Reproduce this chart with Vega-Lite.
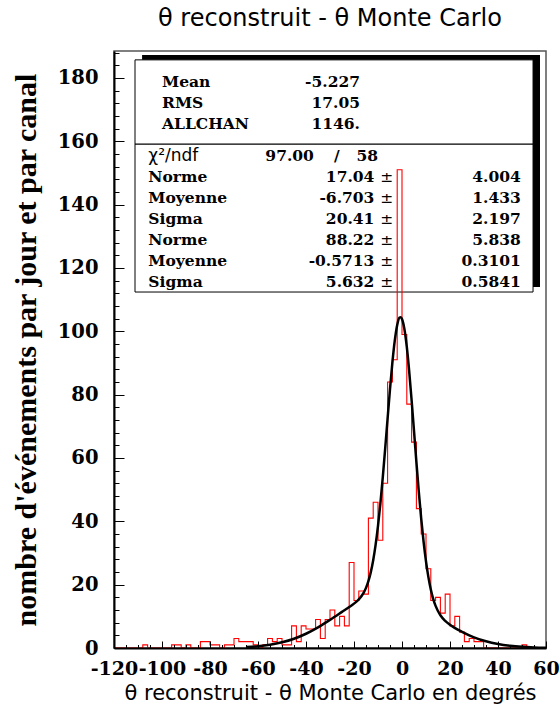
{
  "$schema": "https://vega.github.io/schema/vega-lite/v6.json",
  "width": 432,
  "height": 597,
  "autosize": {"type": "none"},
  "padding": {"left": 114, "top": 51, "right": 14, "bottom": 59},
  "background": "white",
  "title": {"text": "θ reconstruit - θ Monte Carlo", "font": "DejaVu Sans", "fontSize": 24, "fontWeight": "normal", "color": "black", "anchor": "middle", "offset": 20},
  "config": {"view": {"stroke": "#555", "strokeWidth": 1.5}, "axis": {"grid": false}},
  "datasets": {
    "hist": [
      {"x": -120, "n": 0}, {"x": -118, "n": 0}, {"x": -116, "n": 0}, {"x": -114, "n": 0}, {"x": -112, "n": 0},
      {"x": -110, "n": 0}, {"x": -108, "n": 1}, {"x": -106, "n": 0}, {"x": -104, "n": 0}, {"x": -102, "n": 0},
      {"x": -100, "n": 0}, {"x": -98, "n": 0}, {"x": -96, "n": 1}, {"x": -94, "n": 1}, {"x": -92, "n": 0},
      {"x": -90, "n": 1}, {"x": -88, "n": 0}, {"x": -86, "n": 0}, {"x": -84, "n": 2}, {"x": -82, "n": 2},
      {"x": -80, "n": 1}, {"x": -78, "n": 1}, {"x": -76, "n": 0}, {"x": -74, "n": 1}, {"x": -72, "n": 1},
      {"x": -70, "n": 3}, {"x": -68, "n": 2}, {"x": -66, "n": 2}, {"x": -64, "n": 2}, {"x": -62, "n": 1},
      {"x": -60, "n": 0}, {"x": -58, "n": 1}, {"x": -56, "n": 3}, {"x": -54, "n": 2}, {"x": -52, "n": 3},
      {"x": -50, "n": 1}, {"x": -48, "n": 1}, {"x": -46, "n": 7}, {"x": -44, "n": 2}, {"x": -42, "n": 7},
      {"x": -40, "n": 6}, {"x": -38, "n": 6}, {"x": -36, "n": 9}, {"x": -34, "n": 3}, {"x": -32, "n": 9},
      {"x": -30, "n": 12}, {"x": -28, "n": 7}, {"x": -26, "n": 10}, {"x": -24, "n": 7}, {"x": -22, "n": 27},
      {"x": -20, "n": 15}, {"x": -18, "n": 18}, {"x": -16, "n": 17}, {"x": -14, "n": 41}, {"x": -12, "n": 46},
      {"x": -10, "n": 34}, {"x": -8, "n": 52}, {"x": -6, "n": 84}, {"x": -4, "n": 91}, {"x": -2, "n": 151},
      {"x": 0, "n": 99}, {"x": 2, "n": 77}, {"x": 4, "n": 65}, {"x": 6, "n": 44}, {"x": 8, "n": 36},
      {"x": 10, "n": 25}, {"x": 12, "n": 15}, {"x": 14, "n": 16}, {"x": 16, "n": 11}, {"x": 18, "n": 17},
      {"x": 20, "n": 7}, {"x": 22, "n": 10}, {"x": 24, "n": 5}, {"x": 26, "n": 2}, {"x": 28, "n": 3},
      {"x": 30, "n": 2}, {"x": 32, "n": 2}, {"x": 34, "n": 0}, {"x": 36, "n": 0}, {"x": 38, "n": 0},
      {"x": 40, "n": 0}, {"x": 42, "n": 0}, {"x": 44, "n": 0}, {"x": 46, "n": 0}, {"x": 48, "n": 0},
      {"x": 50, "n": 1}, {"x": 52, "n": 0}, {"x": 54, "n": 0}, {"x": 56, "n": 0}, {"x": 58, "n": 0},
      {"x": 60, "n": 0}
    ],
    "fit": [
      {"x": -65, "f": 0.29}, {"x": -60, "f": 0.56}, {"x": -55, "f": 1.04}, {"x": -50, "f": 1.8},
      {"x": -45, "f": 2.93}, {"x": -40, "f": 4.5}, {"x": -35, "f": 6.52}, {"x": -30, "f": 8.88},
      {"x": -25, "f": 11.4}, {"x": -22, "f": 12.93}, {"x": -20, "f": 14.01}, {"x": -18, "f": 15.36},
      {"x": -16, "f": 17.43}, {"x": -15, "f": 18.99}, {"x": -14, "f": 21.13}, {"x": -13, "f": 23.96},
      {"x": -12, "f": 27.73}, {"x": -11, "f": 32.54}, {"x": -10, "f": 38.55}, {"x": -9, "f": 45.7},
      {"x": -8, "f": 53.97}, {"x": -7, "f": 63.02}, {"x": -6, "f": 72.47}, {"x": -5, "f": 81.72},
      {"x": -4, "f": 90.19}, {"x": -3, "f": 97.13}, {"x": -2, "f": 102.02}, {"x": -1, "f": 104.34},
      {"x": -0.5, "f": 104.47}, {"x": 0, "f": 103.91}, {"x": 1, "f": 100.71}, {"x": 2, "f": 95.05},
      {"x": 3, "f": 87.36}, {"x": 4, "f": 78.31}, {"x": 5, "f": 68.53}, {"x": 6, "f": 58.7},
      {"x": 7, "f": 49.33}, {"x": 8, "f": 40.85}, {"x": 9, "f": 33.49}, {"x": 10, "f": 27.35},
      {"x": 11, "f": 22.39}, {"x": 12, "f": 18.5}, {"x": 13, "f": 15.53}, {"x": 14, "f": 13.29},
      {"x": 16, "f": 10.34}, {"x": 18, "f": 8.58}, {"x": 20, "f": 7.35}, {"x": 25, "f": 5.1},
      {"x": 30, "f": 3.38}, {"x": 35, "f": 2.11}, {"x": 40, "f": 1.24}, {"x": 45, "f": 0.69},
      {"x": 50, "f": 0.36}, {"x": 55, "f": 0.18}, {"x": 60, "f": 0.08}
    ],
    "box": [
      {"line": 1, "col": "slab", "t": "Mean"}, {"line": 1, "col": "sval", "t": "-5.227"},
      {"line": 2, "col": "slab", "t": "RMS"}, {"line": 2, "col": "sval", "t": "17.05"},
      {"line": 3, "col": "slab", "t": "ALLCHAN"}, {"line": 3, "col": "sval", "t": "1146."},
      {"line": 4.5, "col": "chi", "t": "χ²/ndf"}, {"line": 4.5, "col": "chival", "t": "97.00"},
      {"line": 4.5, "col": "slash", "t": "/"}, {"line": 4.5, "col": "ndf", "t": "58"},
      {"line": 5.5, "col": "flab", "t": "Norme"}, {"line": 5.5, "col": "fval", "t": "17.04"}, {"line": 5.5, "col": "pm", "t": "±"}, {"line": 5.5, "col": "ferr", "t": "4.004"},
      {"line": 6.5, "col": "flab", "t": "Moyenne"}, {"line": 6.5, "col": "fval", "t": "-6.703"}, {"line": 6.5, "col": "pm", "t": "±"}, {"line": 6.5, "col": "ferr", "t": "1.433"},
      {"line": 7.5, "col": "flab", "t": "Sigma"}, {"line": 7.5, "col": "fval", "t": "20.41"}, {"line": 7.5, "col": "pm", "t": "±"}, {"line": 7.5, "col": "ferr", "t": "2.197"},
      {"line": 8.5, "col": "flab", "t": "Norme"}, {"line": 8.5, "col": "fval", "t": "88.22"}, {"line": 8.5, "col": "pm", "t": "±"}, {"line": 8.5, "col": "ferr", "t": "5.838"},
      {"line": 9.5, "col": "flab", "t": "Moyenne"}, {"line": 9.5, "col": "fval", "t": "-0.5713"}, {"line": 9.5, "col": "pm", "t": "±"}, {"line": 9.5, "col": "ferr", "t": "0.3101"},
      {"line": 10.5, "col": "flab", "t": "Sigma"}, {"line": 10.5, "col": "fval", "t": "5.632"}, {"line": 10.5, "col": "pm", "t": "±"}, {"line": 10.5, "col": "ferr", "t": "0.5841"}
    ]
  },
  "layer": [
    {
      "layer": [
        {
          "data": {"values": [{}]},
          "mark": {"type": "rect", "color": "black"},
          "encoding": {
            "x": {"datum": -108.3, "type": "quantitative", "scale": {"domain": [-120, 60], "nice": false, "zero": false}},
            "x2": {"datum": 57.5},
            "y": {"datum": 187.2, "type": "quantitative", "scale": {"domain": [0, 188.5], "nice": false, "zero": false}},
            "y2": {"datum": 114.0}
          }
        },
        {
          "data": {"values": [{}]},
          "mark": {"type": "rect", "fill": "white", "stroke": "black", "strokeWidth": 1},
          "encoding": {
            "x": {"datum": -111.25, "type": "quantitative", "scale": {"domain": [-120, 60], "nice": false, "zero": false}},
            "x2": {"datum": 54.6},
            "y": {"datum": 185.7, "type": "quantitative", "scale": {"domain": [0, 188.5], "nice": false, "zero": false}},
            "y2": {"datum": 112.4}
          }
        },
        {
          "data": {"values": [{}]},
          "mark": {"type": "rule", "color": "black", "strokeWidth": 1.2},
          "encoding": {
            "x": {"datum": -111.25, "type": "quantitative", "scale": {"domain": [-120, 60], "nice": false, "zero": false}},
            "x2": {"datum": 54.6},
            "y": {"datum": 159.1, "type": "quantitative", "scale": {"domain": [0, 188.5], "nice": false, "zero": false}}
          }
        },
        {
          "data": {"name": "hist"},
          "mark": {"type": "line", "interpolate": "step-after", "color": "#ff0000", "strokeWidth": 1.1},
          "encoding": {
            "x": {
              "field": "x", "type": "quantitative",
              "scale": {"domain": [-120, 60], "nice": false, "zero": false},
              "axis": {
                "values": [-120, -100, -80, -60, -40, -20, 0, 20, 40, 60],
                "labelExpr": "'' + datum.value",
                "tickSize": -7, "tickColor": "black", "tickWidth": 1,
                "domainColor": "black", "domainWidth": 2,
                "labelFont": "DejaVu Serif", "labelFontWeight": "bold", "labelFontSize": 19, "labelColor": "black",
                "labelPadding": 18, "labelFlush": false, "labelOverlap": false,
                "title": "θ reconstruit - θ Monte Carlo en degrés",
                "titleFont": "DejaVu Sans", "titleFontWeight": "normal", "titleFontSize": 21, "titleColor": "black",
                "titlePadding": 4, "zindex": 1
              }
            },
            "y": {
              "field": "n", "type": "quantitative",
              "scale": {"domain": [0, 188.5], "nice": false, "zero": false},
              "axis": {
                "values": [0, 20, 40, 60, 80, 100, 120, 140, 160, 180],
                "labelExpr": "'' + datum.value",
                "tickSize": -10, "tickColor": "black", "tickWidth": 1,
                "domainColor": "black", "domainWidth": 2,
                "labelFont": "DejaVu Serif", "labelFontWeight": "bold", "labelFontSize": 19.5, "labelColor": "black",
                "labelPadding": 26, "labelFlush": false, "labelOverlap": false,
                "title": "nombre d'événements par jour et par canal",
                "titleFont": "Liberation Serif", "titleFontWeight": "bold", "titleFontSize": 30, "titleColor": "black",
                "titlePadding": 16, "zindex": 1
              }
            }
          }
        }
      ]
    },
    {
      "data": {"name": "fit"},
      "mark": {"type": "line", "interpolate": "monotone", "color": "black", "strokeWidth": 2.5},
      "encoding": {
        "x": {
          "field": "x", "type": "quantitative",
          "scale": {"domain": [-120, 60], "nice": false, "zero": false},
          "axis": {"orient": "bottom", "values": [-115, -110, -105, -95, -90, -85, -75, -70, -65, -55, -50, -45, -35, -30, -25, -15, -10, -5, 5, 10, 15, 25, 30, 35, 45, 50, 55],
                   "tickSize": -3.5, "tickColor": "black", "tickWidth": 1, "labels": false, "domain": false, "title": null, "zindex": 1}
        },
        "y": {
          "field": "f", "type": "quantitative",
          "scale": {"domain": [0, 188.5], "nice": false, "zero": false},
          "axis": {"orient": "left", "values": [4, 8, 12, 16, 24, 28, 32, 36, 44, 48, 52, 56, 64, 68, 72, 76, 84, 88, 92, 96, 104, 108, 112, 116, 124, 128, 132, 136, 144, 148, 152, 156, 164, 168, 172, 176, 184, 188],
                   "tickSize": -5, "tickColor": "black", "tickWidth": 1, "labels": false, "domain": false, "title": null, "zindex": 1}
        }
      }
    },
    {
      "data": {"name": "box"},
      "layer": [
        {
          "transform": [{"filter": "datum.col == 'slab'"}],
          "mark": {"type": "text", "align": "left", "baseline": "middle", "font": "DejaVu Serif", "fontWeight": "bold", "fontSize": 15.5, "color": "black"},
          "encoding": {
            "x": {"datum": -100, "type": "quantitative", "scale": {"domain": [-120, 60], "nice": false, "zero": false}, "axis": null},
            "y": {"field": "line", "type": "quantitative", "scale": {"domain": [-0.49, 27.94], "reverse": true, "nice": false, "zero": false}, "axis": null},
            "text": {"field": "t"}
          }
        },
        {
          "transform": [{"filter": "datum.col == 'sval'"}],
          "mark": {"type": "text", "align": "right", "baseline": "middle", "font": "DejaVu Serif", "fontWeight": "bold", "fontSize": 15.5, "color": "black"},
          "encoding": {
            "x": {"datum": -17.5, "type": "quantitative", "scale": {"domain": [-120, 60], "nice": false, "zero": false}, "axis": null},
            "y": {"field": "line", "type": "quantitative", "scale": {"domain": [-0.49, 27.94], "reverse": true, "nice": false, "zero": false}, "axis": null},
            "text": {"field": "t"}
          }
        },
        {
          "transform": [{"filter": "datum.col == 'chi'"}],
          "mark": {"type": "text", "align": "left", "baseline": "middle", "font": "DejaVu Sans", "fontWeight": "normal", "fontSize": 17, "color": "black"},
          "encoding": {
            "x": {"datum": -105.7, "type": "quantitative", "scale": {"domain": [-120, 60], "nice": false, "zero": false}, "axis": null},
            "y": {"field": "line", "type": "quantitative", "scale": {"domain": [-0.49, 27.94], "reverse": true, "nice": false, "zero": false}, "axis": null},
            "text": {"field": "t"}
          }
        },
        {
          "transform": [{"filter": "datum.col == 'chival'"}],
          "mark": {"type": "text", "align": "right", "baseline": "middle", "font": "DejaVu Serif", "fontWeight": "bold", "fontSize": 15.5, "color": "black"},
          "encoding": {
            "x": {"datum": -36.7, "type": "quantitative", "scale": {"domain": [-120, 60], "nice": false, "zero": false}, "axis": null},
            "y": {"field": "line", "type": "quantitative", "scale": {"domain": [-0.49, 27.94], "reverse": true, "nice": false, "zero": false}, "axis": null},
            "text": {"field": "t"}
          }
        },
        {
          "transform": [{"filter": "datum.col == 'slash'"}],
          "mark": {"type": "text", "align": "center", "baseline": "middle", "font": "DejaVu Serif", "fontWeight": "bold", "fontSize": 15.5, "color": "black"},
          "encoding": {
            "x": {"datum": -27.2, "type": "quantitative", "scale": {"domain": [-120, 60], "nice": false, "zero": false}, "axis": null},
            "y": {"field": "line", "type": "quantitative", "scale": {"domain": [-0.49, 27.94], "reverse": true, "nice": false, "zero": false}, "axis": null},
            "text": {"field": "t"}
          }
        },
        {
          "transform": [{"filter": "datum.col == 'ndf'"}],
          "mark": {"type": "text", "align": "right", "baseline": "middle", "font": "DejaVu Serif", "fontWeight": "bold", "fontSize": 15.5, "color": "black"},
          "encoding": {
            "x": {"datum": -10, "type": "quantitative", "scale": {"domain": [-120, 60], "nice": false, "zero": false}, "axis": null},
            "y": {"field": "line", "type": "quantitative", "scale": {"domain": [-0.49, 27.94], "reverse": true, "nice": false, "zero": false}, "axis": null},
            "text": {"field": "t"}
          }
        },
        {
          "transform": [{"filter": "datum.col == 'flab'"}],
          "mark": {"type": "text", "align": "left", "baseline": "middle", "font": "DejaVu Serif", "fontWeight": "bold", "fontSize": 15.5, "color": "black"},
          "encoding": {
            "x": {"datum": -105.7, "type": "quantitative", "scale": {"domain": [-120, 60], "nice": false, "zero": false}, "axis": null},
            "y": {"field": "line", "type": "quantitative", "scale": {"domain": [-0.49, 27.94], "reverse": true, "nice": false, "zero": false}, "axis": null},
            "text": {"field": "t"}
          }
        },
        {
          "transform": [{"filter": "datum.col == 'fval'"}],
          "mark": {"type": "text", "align": "right", "baseline": "middle", "font": "DejaVu Serif", "fontWeight": "bold", "fontSize": 15.5, "color": "black"},
          "encoding": {
            "x": {"datum": -11.5, "type": "quantitative", "scale": {"domain": [-120, 60], "nice": false, "zero": false}, "axis": null},
            "y": {"field": "line", "type": "quantitative", "scale": {"domain": [-0.49, 27.94], "reverse": true, "nice": false, "zero": false}, "axis": null},
            "text": {"field": "t"}
          }
        },
        {
          "transform": [{"filter": "datum.col == 'pm'"}],
          "mark": {"type": "text", "align": "center", "baseline": "middle", "font": "DejaVu Serif", "fontWeight": "normal", "fontSize": 15.5, "color": "black"},
          "encoding": {
            "x": {"datum": -6.4, "type": "quantitative", "scale": {"domain": [-120, 60], "nice": false, "zero": false}, "axis": null},
            "y": {"field": "line", "type": "quantitative", "scale": {"domain": [-0.49, 27.94], "reverse": true, "nice": false, "zero": false}, "axis": null},
            "text": {"field": "t"}
          }
        },
        {
          "transform": [{"filter": "datum.col == 'ferr'"}],
          "mark": {"type": "text", "align": "right", "baseline": "middle", "font": "DejaVu Serif", "fontWeight": "bold", "fontSize": 15.5, "color": "black"},
          "encoding": {
            "x": {"datum": 49.5, "type": "quantitative", "scale": {"domain": [-120, 60], "nice": false, "zero": false}, "axis": null},
            "y": {"field": "line", "type": "quantitative", "scale": {"domain": [-0.49, 27.94], "reverse": true, "nice": false, "zero": false}, "axis": null},
            "text": {"field": "t"}
          }
        }
      ]
    }
  ],
  "resolve": {"scale": {"y": "independent"}, "axis": {"x": "independent", "y": "independent"}}
}
